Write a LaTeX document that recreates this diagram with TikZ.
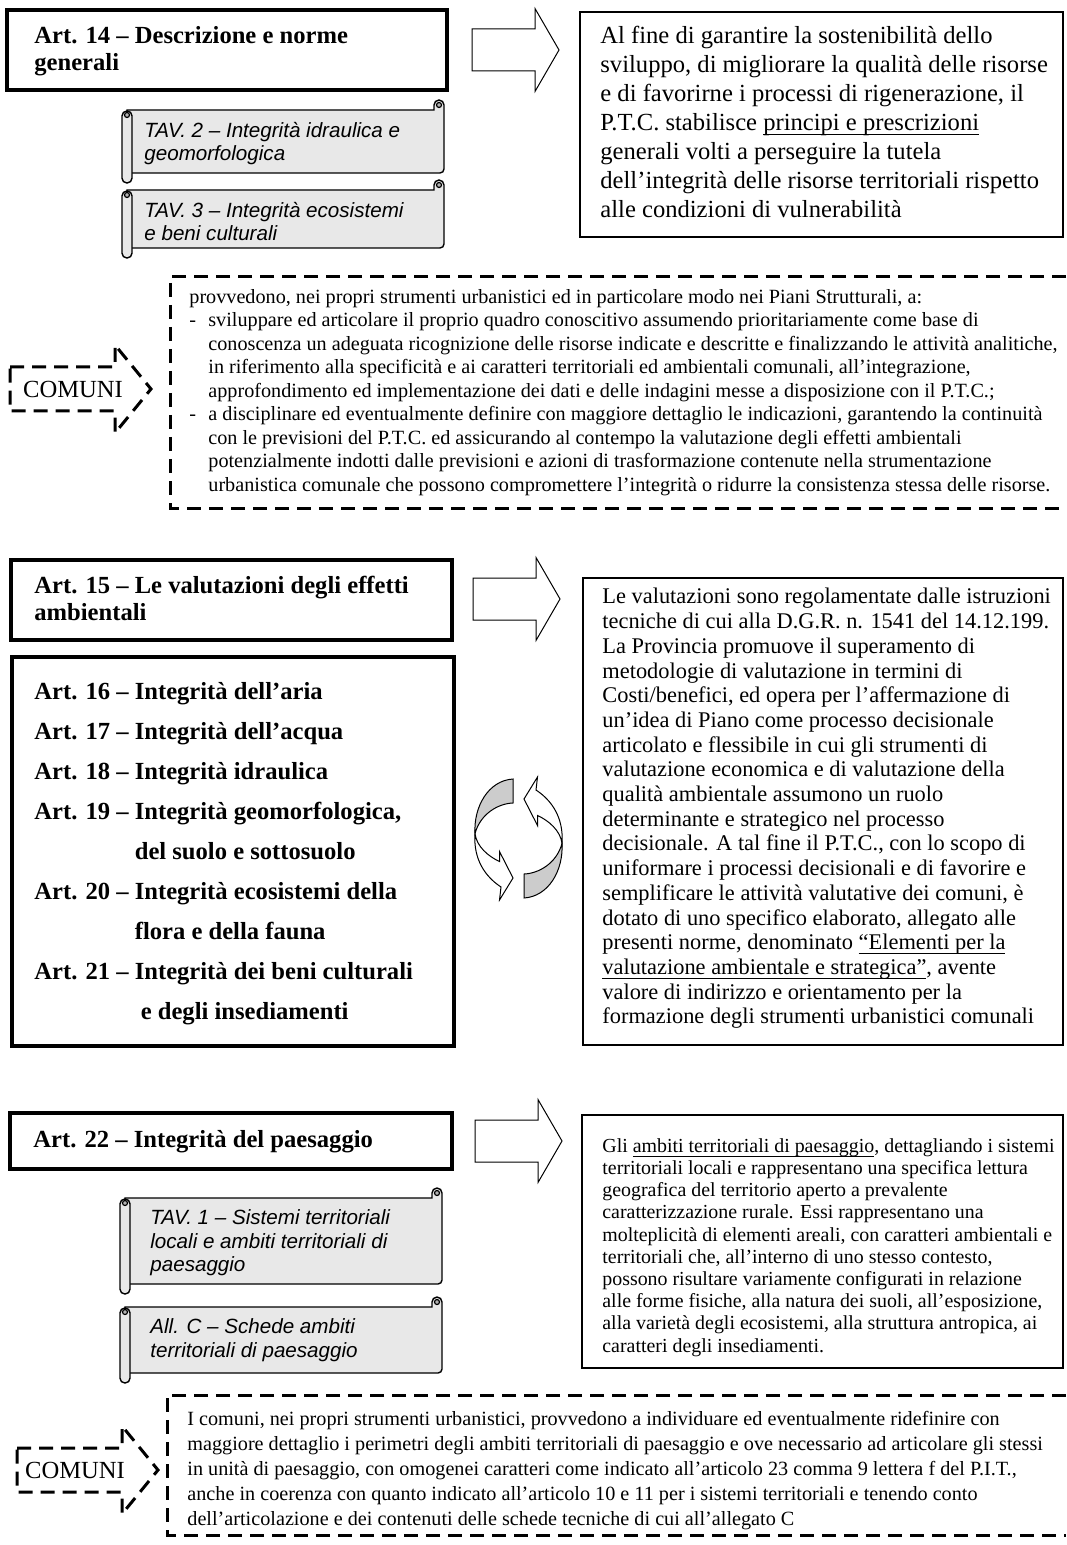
\documentclass[tikz,border=0pt]{standalone}
\usepackage{fontspec}
\setmainfont{Liberation Serif}
\setsansfont{Liberation Sans}

% underlined words
\newcommand{\undl}[1]{\setbox0\hbox{#1}\rlap{\rule[-2.2pt]{\wd0}{0.55pt}}\box0}

% scroll: left, top, right, bottom (px)
\newcommand{\drawscroll}[4]{%
  \filldraw[line width=0.7pt,fill=gray!18] ({#1+5},#2) -- ({#3-10},#2) -- ({#3-10},{#2-5})
    arc[start angle=180,end angle=360,radius=5] -- (#3,{#4-4})
    arc[start angle=0,end angle=90,radius=4] -- ({#1+5},#4) -- cycle;
  \filldraw[line width=0.6pt,fill=gray!60] ({#3-5},{#2-5}) circle (2.5);
  \filldraw[line width=0.7pt,fill=gray!18,rounded corners=2.4pt] (#1,{#2+1}) rectangle ({#1+10},{#4+10});
  \filldraw[line width=0.6pt,fill=gray!60] ({#1+5},{#2+5}) circle (2.5);
}

\begin{document}
\begin{tikzpicture}[x=0.5pt,y=-0.5pt,
    artframe/.style={draw,line width=1.6pt},
    textframe/.style={draw,line width=0.9pt},
    dashline/.style={line width=1.5pt,dash pattern=on 7pt off 4pt},
    arttitle/.style={inner sep=0,anchor=north west,align=left,font=\fontsize{12.3}{13.5}\selectfont\bfseries},
    artlist/.style={arttitle,font=\fontsize{12.3}{20}\selectfont\bfseries},
    bigtext/.style={inner sep=0,anchor=north west,align=left,font=\fontsize{12.3}{14.5}\selectfont},
    midtext/.style={bigtext,font=\fontsize{11.2}{12.35}\selectfont},
    smalltext/.style={bigtext,font=\fontsize{10.1}{11.75}\selectfont},
    scrolltext/.style={inner sep=0,anchor=north west,align=left,font=\fontsize{10.3}{11.6}\selectfont\sffamily\itshape},
    comlabel/.style={inner sep=0,font=\fontsize{12.3}{14}\selectfont},
    bigarrow/.pic={\draw[line width=0.5pt,fill=white] (0,-21) -- (63,-21) -- (63,-41.5) -- (87,0) -- (63,41.5) -- (63,21) -- (0,21) -- cycle;},
    comarrow/.pic={\draw[dashline] (0,-22) -- (105,-22) -- (105,-44) -- (141,0) -- (105,44) -- (105,22) -- (0,22) -- cycle;},
    cyclearrow/.pic={
      \filldraw[line width=0.5pt,fill=gray!40] (-5.5,-59.5) -- (-5.5,-35.5) .. controls (-20,-35) and (-38,-25) .. (-43.5,-5)
        .. controls (-45,-32) and (-30,-58) .. (-5.5,-59.5) -- cycle;
      \filldraw[line width=0.5pt,fill=white] (-43.5,-5) .. controls (-45,15) and (-38,35) .. (-17.5,48.5) -- (-19,61.5)
        -- (-5.5,39.5) -- (-19,13) -- (-19,23) .. controls (-30,18) and (-42,8) .. (-43.5,-5) -- cycle;}]

\fill[white] (0,0) rectangle (1066,1545);
\useasboundingbox (0,0) rectangle (1066,1545);

% Art. 14
\draw[artframe] (7,10) rectangle (447,90);
\node[arttitle] (art14) at (34,26) {Art. 14 – Descrizione e norme\\generali};
\pic (arr14) at (472,50) {bigarrow};
\draw[textframe] (580,12) rectangle (1063,237);
\node[bigtext] (txt14) at (600,26) {Al fine di garantire la sostenibilità dello\\
  sviluppo, di migliorare la qualità delle risorse\\
  e di favorirne i processi di rigenerazione, il\\
  P.T.C. stabilisce \undl{principi e prescrizioni}\\
  generali volti a perseguire la tutela\\
  dell’integrità delle risorse territoriali rispetto\\
  alle condizioni di vulnerabilità};

\drawscroll{122}{110}{444}{173}
\node[scrolltext] (tav2) at (144,121.5) {TAV. 2 – Integrità idraulica e\\geomorfologica};
\drawscroll{122}{190}{444}{248}
\node[scrolltext] (tav3) at (144,201.5) {TAV. 3 – Integrità ecosistemi\\e beni culturali};

% comuni 1
\pic (com1arr) at (10,389) {comarrow};
\node[comlabel] (com1) at (73,389) {COMUNI};
\draw[dashline] (1066,277) -- (170,277) -- (170,508) -- (1066,508);
\node[smalltext] (dash1) at (189,289) {provvedono, nei propri strumenti urbanistici ed in particolare modo nei Piani Strutturali, a:\\
  \makebox[9.5pt][l]{-}sviluppare ed articolare il proprio quadro conoscitivo assumendo prioritariamente come base di\\
  \hspace*{9.5pt}conoscenza un adeguata ricognizione delle risorse indicate e descritte e finalizzando le attività analitiche,\\
  \hspace*{9.5pt}in riferimento alla specificità e ai caratteri territoriali ed ambientali comunali, all’integrazione,\\
  \hspace*{9.5pt}approfondimento ed implementazione dei dati e delle indagini messe a disposizione con il P.T.C.;\\
  \makebox[9.5pt][l]{-}a disciplinare ed eventualmente definire con maggiore dettaglio le indicazioni, garantendo la continuità\\
  \hspace*{9.5pt}con le previsioni del P.T.C. ed assicurando al contempo la valutazione degli effetti ambientali\\
  \hspace*{9.5pt}potenzialmente indotti dalle previsioni e azioni di trasformazione contenute nella strumentazione\\
  \hspace*{9.5pt}urbanistica comunale che possono compromettere l’integrità o ridurre la consistenza stessa delle risorse.};

% Art. 15 - 21
\draw[artframe] (11,560) rectangle (452,640);
\node[arttitle] (art15) at (34,576) {Art. 15 – Le valutazioni degli effetti\\ambientali};
\pic (arr15) at (473,599) {bigarrow};
\draw[textframe] (583,578) rectangle (1063,1045);
\node[midtext] (txt15) at (602,588) {Le valutazioni sono regolamentate dalle istruzioni\\
  tecniche di cui alla D.G.R. n. 1541 del 14.12.199.\\
  La Provincia promuove il superamento di\\
  metodologie di valutazione in termini di\\
  Costi/benefici, ed opera per l’affermazione di\\
  un’idea di Piano come processo decisionale\\
  articolato e flessibile in cui gli strumenti di\\
  valutazione economica e di valutazione della\\
  qualità ambientale assumono un ruolo\\
  determinante e strategico nel processo\\
  decisionale. A tal fine il P.T.C., con lo scopo di\\
  uniformare i processi decisionali e di favorire e\\
  semplificare le attività valutative dei comuni, è\\
  dotato di uno specifico elaborato, allegato alle\\
  presenti norme, denominato \undl{“Elementi per la}\\
  \undl{valutazione ambientale e strategica”}, avente\\
  valore di indirizzo e orientamento per la\\
  formazione degli strumenti urbanistici comunali};

\draw[artframe] (12,657) rectangle (454,1046);
\node[artlist] (art16) at (34,682) {Art. 16 – Integrità dell’aria\\
  Art. 17 – Integrità dell’acqua\\
  Art. 18 – Integrità idraulica\\
  Art. 19 – Integrità geomorfologica,\\
  \phantom{Art. 19 – }del suolo e sottosuolo\\
  Art. 20 – Integrità ecosistemi della\\
  \phantom{Art. 20 – }flora e della fauna\\
  Art. 21 – Integrità dei beni culturali\\
  \phantom{Art. 21 – }\hspace*{3pt}e degli insediamenti};
\pic (cycle) at (518.5,838.5) {cyclearrow};
\pic[rotate=180] (cycleb) at (518.5,838.5) {cyclearrow};

% Art. 22
\draw[artframe] (10,1113) rectangle (452,1169);
\node[arttitle,anchor=west] (art22) at (33,1142) {Art. 22 – Integrità del paesaggio};
\pic (arr22) at (475,1141) {bigarrow};
\draw[textframe] (582,1115) rectangle (1063,1368);
\node[smalltext,font=\fontsize{9.95}{11.1}\selectfont] (txt22) at (602,1138) {Gli \undl{ambiti territoriali di paesaggio}, dettagliando i sistemi\\
  territoriali locali e rappresentano una specifica lettura\\
  geografica del territorio aperto a prevalente\\
  caratterizzazione rurale. Essi rappresentano una\\
  molteplicità di elementi areali, con caratteri ambientali e\\
  territoriali che, all’interno di uno stesso contesto,\\
  possono risultare variamente configurati in relazione\\
  alle forme fisiche, alla natura dei suoli, all’esposizione,\\
  alla varietà degli ecosistemi, alla struttura antropica, ai\\
  caratteri degli insediamenti.};

\drawscroll{120}{1198}{442}{1284}
\node[scrolltext] (tav1) at (150,1209.5) {TAV. 1 – Sistemi territoriali\\locali e ambiti territoriali di\\paesaggio};
\drawscroll{120}{1307}{442}{1373}
\node[scrolltext] (allc) at (150,1318.5) {All. C – Schede ambiti\\territoriali di paesaggio};

% comuni 2
\pic (com2arr) at (17,1470) {comarrow};
\node[comlabel] (com2) at (75,1470) {COMUNI};
\draw[dashline] (1066,1395) -- (167,1395) -- (167,1535) -- (1066,1535);
\node[smalltext,font=\fontsize{10.1}{12.5}\selectfont] (dash2) at (187,1411) {I comuni, nei propri strumenti urbanistici, provvedono a individuare ed eventualmente ridefinire con\\
  maggiore dettaglio i perimetri degli ambiti territoriali di paesaggio e ove necessario ad articolare gli stessi\\
  in unità di paesaggio, con omogenei caratteri come indicato all’articolo 23 comma 9 lettera f del P.I.T.,\\
  anche in coerenza con quanto indicato all’articolo 10 e 11 per i sistemi territoriali e tenendo conto\\
  dell’articolazione e dei contenuti delle schede tecniche di cui all’allegato C};
\end{tikzpicture}
\end{document}
